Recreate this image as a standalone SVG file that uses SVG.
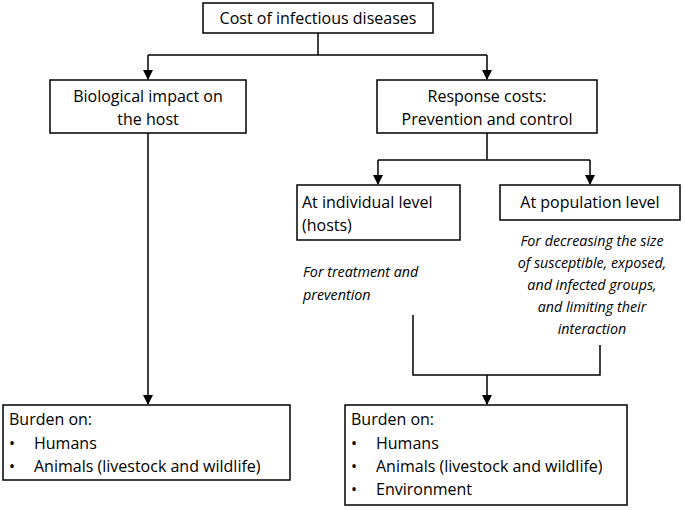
<svg xmlns="http://www.w3.org/2000/svg" width="685" height="510" viewBox="0 0 685 510">
<style>
.b{fill:#fff;stroke:#000;stroke-width:1.5}
.t{font-family:"Open Sans","Liberation Sans",sans-serif;font-size:16px;fill:#000}
.i{font-family:"Open Sans","Liberation Sans",sans-serif;font-size:14.3px;font-style:italic;fill:#000}
.c{fill:none;stroke:#000;stroke-width:1.5}
</style>
<defs><marker id="a" markerWidth="10" markerHeight="10" refX="9" refY="5" orient="auto" markerUnits="userSpaceOnUse"><path d="M0,0 L10,5 L0,10 Z" fill="#000"/></marker></defs>
<rect width="685" height="510" fill="#fff"/>
<g id="connectors">
<path class="c" d="M318,33 V55 M148,55 H487"/>
<path class="c" d="M148,55 V79" marker-end="url(#a)"/>
<path class="c" d="M487,55 V79" marker-end="url(#a)"/>
<path class="c" d="M487,133 V160 M378,160 H590"/>
<path class="c" d="M378,160 V184" marker-end="url(#a)"/>
<path class="c" d="M590,160 V184" marker-end="url(#a)"/>
<path class="c" d="M148,133 V404" marker-end="url(#a)"/>
<path class="c" d="M413,315 V375 H600 V345"/>
<path class="c" d="M487,375 V404" marker-end="url(#a)"/>
</g>
<g id="n1"><rect class="b" x="203" y="3" width="230" height="30"/><text class="t" x="318" y="24" text-anchor="middle">Cost of infectious diseases</text></g>
<g id="n2"><rect class="b" x="50" y="80" width="196" height="53"/><text class="t" x="148" y="102" text-anchor="middle">Biological impact on</text><text class="t" x="148" y="125" text-anchor="middle">the host</text></g>
<g id="n3"><rect class="b" x="377" y="80" width="220" height="53"/><text class="t" x="487" y="102" text-anchor="middle">Response costs:</text><text class="t" x="487" y="125" text-anchor="middle">Prevention and control</text></g>
<g id="n4"><rect class="b" x="297" y="185" width="163" height="55"/><text class="t" x="302" y="208">At individual level</text><text class="t" x="302" y="231">(hosts)</text></g>
<g id="n5"><rect class="b" x="500" y="185" width="180" height="35"/><text class="t" x="590" y="208" text-anchor="middle">At population level</text></g>
<g id="n6"><text class="i" x="303" y="277">For treatment and</text><text class="i" x="303" y="300">prevention</text></g>
<g id="n7" text-anchor="middle"><text class="i" x="592" y="246">For decreasing the size</text><text class="i" x="592" y="268">of susceptible, exposed,</text><text class="i" x="592" y="290">and infected groups,</text><text class="i" x="592" y="312">and limiting their</text><text class="i" x="592" y="334">interaction</text></g>
<g id="n8"><rect class="b" x="3" y="405" width="287" height="75"/><text class="t" x="9" y="425">Burden on:</text><text class="t" x="9" y="449">•</text><text class="t" x="34" y="449">Humans</text><text class="t" x="9" y="472">•</text><text class="t" x="34" y="472">Animals (livestock and wildlife)</text></g>
<g id="n9"><rect class="b" x="345" y="405" width="282" height="100"/><text class="t" x="351" y="425">Burden on:</text><text class="t" x="351" y="449">•</text><text class="t" x="376" y="449">Humans</text><text class="t" x="351" y="472">•</text><text class="t" x="376" y="472">Animals (livestock and wildlife)</text><text class="t" x="351" y="495">•</text><text class="t" x="376" y="495">Environment</text></g>
</svg>
